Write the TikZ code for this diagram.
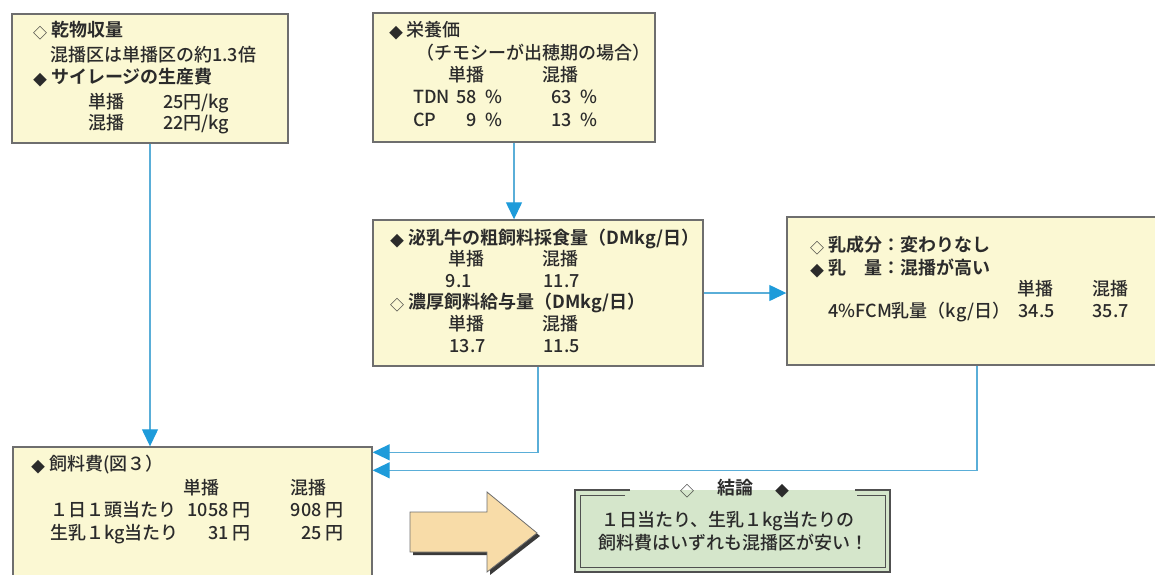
\documentclass[tikz,border=0pt]{standalone}
\usepackage{fontspec}
\IfFontExistsTF{Noto Sans CJK JP Medium}
  {\setmainfont{Noto Sans CJK JP Medium}[BoldFont=Noto Sans CJK JP Bold]}
  {\setmainfont{Noto Sans CJK JP}}
\usetikzlibrary{arrows.meta,calc}
\definecolor{boxfill}{HTML}{FBF8D3}
\definecolor{boxline}{HTML}{6E6E6E}
\definecolor{ink}{HTML}{2B2B2B}
\definecolor{linecol}{HTML}{5AAED8}
\definecolor{arrowcol}{HTML}{1E9BDA}
\definecolor{bigfill}{HTML}{F8DCA8}
\definecolor{shadowcol}{HTML}{3A3A3A}
\definecolor{greenfill}{HTML}{D5E6CB}
\definecolor{greenline}{HTML}{505050}
\begin{document}
\begin{tikzpicture}[x=1pt,y=-1pt,
  box/.style={draw=boxline, line width=1.4pt, fill=boxfill, inner sep=0pt},
  t/.style={anchor=west, inner sep=0pt, text height=0.88em, text depth=0.12em,
            font=\fontsize{18}{20}\selectfont, text=ink},
  tr/.style={t, anchor=east},
  h/.style={t, font=\fontsize{18}{20}\selectfont\bfseries},
  bul/.style={inner sep=0pt, font=\fontsize{14}{16}\selectfont, text=ink},
  conn/.style={draw=linecol, line width=1.3pt,
               -{Triangle[length=17pt,width=16pt,color=arrowcol]}}
]
\useasboundingbox (0,0) rectangle (1155,574);
\clip (0,0) rectangle (1155,574);

% boxes
\node[box, minimum width=276pt, minimum height=129pt] (A) at (150,78.5) {};
\node[box, minimum width=282pt, minimum height=129pt] (B) at (514,77.5) {};
\node[box, minimum width=330pt, minimum height=146pt] (C) at (538,293) {};
\node[box, minimum width=380pt, minimum height=148pt] (D) at (977,291) {};
\node[box, minimum width=359pt, minimum height=146pt] (E) at (192.5,520) {};

% box A
\node[bul] (a1b) at (40,33) {◇};
\node[h] (a1) at (51,33) {乾物収量};
\node[t] (a2) at (50,58) {混播区は単播区の約1.3倍};
\node[bul] (a3b) at (40,80) {◆};
\node[h] (a3) at (51,80) {サイレージの生産費};
\node[t] (a4) at (88,105) {単播};
\node[t] (a5) at (163,105) {25円/kg};
\node[t] (a6) at (88,126) {混播};
\node[t] (a7) at (163,126) {22円/kg};

% box B
\node[bul] (b1b) at (396,33) {◆};
\node[t] (b1) at (406,33) {栄養価};
\node[t] (b2) at (416,56) {（チモシーが出穂期の場合）};
\node[t] (b3) at (448,78) {単播};
\node[t] (b4) at (542,78) {混播};
\node[t] (b5) at (413,100) {TDN};
\node[tr] (b6) at (503,100) {58\hspace{0.5em}\%};
\node[tr] (b7) at (598,100) {63\hspace{0.5em}\%};
\node[t] (b8) at (413,123) {CP};
\node[tr] (b9) at (503,123) {9\hspace{0.5em}\%};
\node[tr] (b10) at (598,123) {13\hspace{0.5em}\%};

% box C
\node[bul] (c1b) at (397,241) {◆};
\node[h] (c1) at (408,241) {泌乳牛の粗飼料採食量（DMkg/日）};
\node[t] (c2) at (448,262) {単播};
\node[t] (c3) at (542,262) {混播};
\node[tr] (c4) at (472,284) {9.1};
\node[tr] (c5) at (580,284) {11.7};
\node[bul] (c6b) at (397,305) {◇};
\node[h] (c6) at (408,305) {濃厚飼料給与量（DMkg/日）};
\node[t] (c7) at (448,327) {単播};
\node[t] (c8) at (542,327) {混播};
\node[tr] (c9) at (486,349) {13.7};
\node[tr] (c10) at (580,349) {11.5};

% box D
\node[bul] (d1b) at (817,248) {◇};
\node[h] (d1) at (828,248) {乳成分：変わりなし};
\node[bul] (d2b) at (817,271) {◆};
\node[h] (d2) at (828,271) {乳　量：混播が高い};
\node[t] (d3) at (1017,292) {単播};
\node[t] (d4) at (1092,292) {混播};
\node[t] (d5) at (828,314) {4\%FCM乳量（kg/日）};
\node[tr] (d6) at (1055,314) {34.5};
\node[tr] (d7) at (1129,314) {35.7};

% box E
\node[bul] (e1b) at (38,467) {◆};
\node[t] (e1) at (49,467) {飼料費(図３）};
\node[t] (e2) at (183,491) {単播};
\node[t] (e3) at (290,491) {混播};
\node[t] (e4) at (50,513) {１日１頭当たり};
\node[tr] (e5) at (251,513) {1058 円};
\node[tr] (e6) at (344,513) {908 円};
\node[t] (e7) at (50,536) {生乳１kg当たり};
\node[tr] (e8) at (251,536) {31 円};
\node[tr] (e9) at (344,536) {25 円};

% connectors
\draw[conn] (A.south) -- (A.south |- E.north);
\draw[conn] (B.south) -- (B.south |- C.north);
\draw[conn] (C.east) -- (C.east -| D.west);
\draw[conn] (C.south) |- ($(E.north east)+(0,6)$);
\draw[conn] (D.south) |- ($(E.north east)+(0,24)$);

% big arrow
\fill[shadowcol] (413,515) -- (490,515) -- (490,495) -- (540,536) -- (490,575) -- (490,555) -- (413,555) -- cycle;
\filldraw[fill=bigfill, draw=boxline, line width=0.8pt]
  (410,512) -- (487,512) -- (487,492) -- (537,533) -- (487,572) -- (487,552) -- (410,552) -- cycle;

% conclusion box
\node[fill=greenfill, inner sep=0pt, minimum width=315pt, minimum height=82pt] (K) at (732.5,531) {};
\draw[greenline, line width=1.3pt] (630,490) -- (575,490) -- (575,572) -- (890,572) -- (890,490) -- (855,490);
\draw[greenline, line width=1pt] (625,495) -- (580,495) -- (580,567) -- (885,567) -- (885,495) -- (857,495);
\node[bul] (k1) at (687,491) {◇};
\node[h, anchor=center] (k2) at (735,491) {結論};
\node[bul] (k3) at (782,491) {◆};
\node[t, anchor=center] (k4) at (728,523) {１日当たり、生乳１kg当たりの};
\node[t, anchor=center] (k5) at (733,546) {飼料費はいずれも混播区が安い！};
\end{tikzpicture}
\end{document}
